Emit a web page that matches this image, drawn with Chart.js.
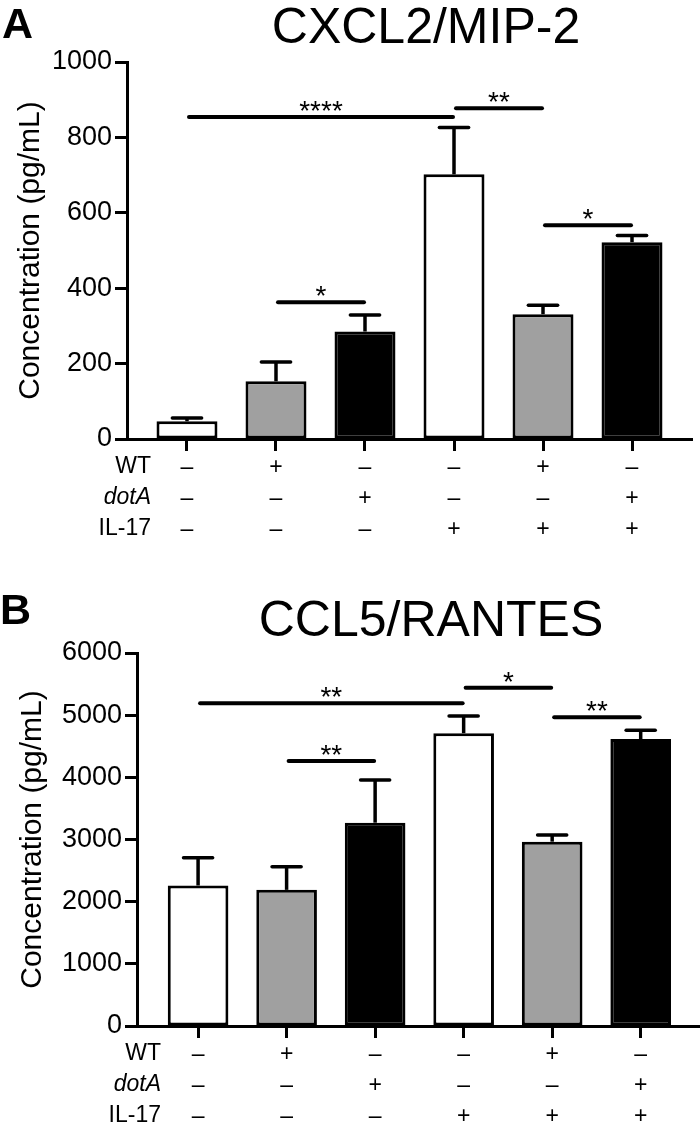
<!DOCTYPE html>
<html>
<head>
<meta charset="utf-8">
<script src="https://cdn.jsdelivr.net/npm/chart.js@4.4.0/dist/chart.umd.min.js"></script>
<style>
  body { margin: 0; background: #fff; }
  .panel { position: absolute; left: 0; width: 700px; }
  #panelA { top: 0; height: 560px; }
  #panelB { top: 560px; height: 565px; }
</style>
</head>
<body>
<div class="panel" id="panelA"><canvas id="chartA"></canvas></div>
<div class="panel" id="panelB"><canvas id="chartB"></canvas></div>
<script>
// treatment table under each chart
const rowNames = ["WT", "dotA", "IL-17"];
const wtRow = ["–", "+", "–", "–", "+", "–"];
const dotARow = ["–", "–", "+", "–", "–", "+"];
const il17Row = ["–", "–", "–", "+", "+", "+"];

// CXCL2/MIP-2 (pg/mL), mean and upper error
const mipMeans = [47, 153, 285, 702, 331, 522];
const mipErr = [9, 51, 44, 124, 24, 18];
const mipTicks = [0, 200, 400, 600, 800, 1000];
// [from bar, to bar, height, label]
const mipSig = [[0, 3, 854, "****"], [3, 4, 877, "**"], [1, 2, 363, "*"], [4, 5, 567, "*"]];

// CCL5/RANTES (pg/mL)
const rantesMeans = [2260, 2190, 3270, 4710, 2965, 4615];
const rantesErr = [447, 373, 687, 276, 107, 141];
const rantesTicks = [0, 1000, 2000, 3000, 4000, 5000, 6000];
const rantesSig = [[0, 3, 5190, "**"], [3, 4, 5441, "*"], [1, 2, 4262, "**"], [4, 5, 4965, "**"]];

const FONT = "'Liberation Sans', Arial, Helvetica, sans-serif";
const fills = ["#ffffff", "#a0a0a0", "#000000", "#ffffff", "#a0a0a0", "#000000"];

function makeChart(id, cfg) {
  const extras = {
    id: "extras",
    afterDatasetsDraw(chart) {
      const ctx = chart.ctx;
      const x = chart.scales.x, y = chart.scales.y;
      const meta = chart.getDatasetMeta(0);
      ctx.save();
      ctx.strokeStyle = "#000";
      // error bars (upper only)
      meta.data.forEach((bar, i) => {
        const top = y.getPixelForValue(cfg.means[i] + cfg.err[i]);
        const hw = bar.width * 0.24;
        ctx.lineWidth = 3.5;
        ctx.lineCap = "butt";
        ctx.beginPath();
        ctx.moveTo(bar.x, bar.y);
        ctx.lineTo(bar.x, top);
        ctx.stroke();
        ctx.lineCap = "round";
        ctx.beginPath();
        ctx.moveTo(bar.x - hw, top);
        ctx.lineTo(bar.x + hw, top);
        ctx.stroke();
      });
      // significance lines
      ctx.font = "28px " + FONT;
      ctx.fillStyle = "#000";
      ctx.textAlign = "center";
      ctx.textBaseline = "alphabetic";
      cfg.sig.forEach(s => {
        const x1 = x.getPixelForValue(s[0]) + 2;
        const x2 = x.getPixelForValue(s[1]) - 1;
        const yy = y.getPixelForValue(s[2]);
        ctx.lineWidth = 4;
        ctx.lineCap = "round";
        ctx.beginPath();
        ctx.moveTo(x1, yy);
        ctx.lineTo(x2, yy);
        ctx.stroke();
        const m = ctx.measureText(s[3]);
        ctx.fillText(s[3], (x1 + x2) / 2, yy - 6 - m.actualBoundingBoxDescent);
      });
      ctx.restore();
    },
    afterDraw(chart) {
      const ctx = chart.ctx;
      const area = chart.chartArea;
      ctx.save();
      ctx.fillStyle = "#000";
      // panel letter
      ctx.font = "bold 43px " + FONT;
      ctx.textAlign = "left";
      ctx.textBaseline = "alphabetic";
      ctx.fillText(cfg.letter, cfg.letterX, cfg.letterY);
      // title
      ctx.font = "50px " + FONT;
      ctx.textAlign = "center";
      ctx.fillText(cfg.title, cfg.titleX, cfg.titleY);
      // y axis title
      ctx.save();
      ctx.translate(cfg.yTitleX, (area.top + area.bottom) / 2);
      ctx.rotate(-Math.PI / 2);
      ctx.font = "30px " + FONT;
      ctx.textBaseline = "middle";
      ctx.fillText("Concentration (pg/mL)", 0, 0);
      ctx.restore();
      // row names of the table
      ctx.textAlign = "right";
      ctx.textBaseline = "middle";
      rowNames.forEach((r, k) => {
        ctx.font = (r === "dotA" ? "italic " : "") + "23px " + FONT;
        ctx.fillText(r, area.left + 24, area.bottom + 28 + k * 31);
      });
      ctx.restore();
    }
  };

  return new Chart(document.getElementById(id), {
    type: "bar",
    data: {
      datasets: [{
        data: cfg.means.map((v, i) => ({ x: i, y: v })),
        backgroundColor: fills,
        borderColor: "#000",
        borderWidth: 3,
        borderSkipped: false,
        categoryPercentage: 1,
        barPercentage: 0.685
      }]
    },
    options: {
      responsive: true,
      maintainAspectRatio: false,
      animation: false,
      layout: { padding: { top: cfg.padTop, right: cfg.padRight, left: 0, bottom: 0 } },
      plugins: { legend: { display: false }, tooltip: { enabled: false } },
      scales: {
        x: {
          type: "linear",
          offset: false,
          bounds: "data",
          min: cfg.xMin,
          max: cfg.xMax,
          afterBuildTicks: s => { s.ticks = wtRow.map((w, i) => ({ value: i })); },
          afterFit: s => { s.height = cfg.xHeight; },
          border: { display: true, color: "#000", width: 3 },
          grid: { offset: false, drawOnChartArea: false, drawTicks: true, tickLength: 12, tickWidth: 3, tickColor: "#000" },
          ticks: {
            autoSkip: false,
            maxRotation: 0,
            padding: 1,
            color: "#000",
            font: { family: FONT, size: 23, lineHeight: 31 / 23 },
            callback: v => [wtRow[v], dotARow[v], il17Row[v]]
          }
        },
        y: {
          min: cfg.ticks[0],
          max: cfg.ticks[cfg.ticks.length - 1],
          afterBuildTicks: s => { s.ticks = cfg.ticks.map(v => ({ value: v })); },
          afterFit: s => { s.width = cfg.yWidth; },
          border: { display: true, color: "#000", width: 3 },
          grid: { drawOnChartArea: false, drawTicks: true, tickLength: 12, tickWidth: 3, tickColor: "#000" },
          ticks: { padding: 3, color: "#000", font: { family: FONT, size: 27 }, callback: v => String(v) }
        }
      }
    },
    plugins: [extras]
  });
}

makeChart("chartA", {
  means: mipMeans, err: mipErr, ticks: mipTicks, sig: mipSig,
  title: "CXCL2/MIP-2", letter: "A",
  letterX: 2, letterY: 38, titleX: 426, titleY: 43, yTitleX: 31,
  padTop: 62, padRight: 8, xHeight: 121, yWidth: 127,
  xMin: -0.674, xMax: 5.674
});

makeChart("chartB", {
  means: rantesMeans, err: rantesErr, ticks: rantesTicks, sig: rantesSig,
  title: "CCL5/RANTES", letter: "B",
  letterX: 0, letterY: 64, titleX: 431, titleY: 76, yTitleX: 33,
  padTop: 93, padRight: 0, xHeight: 99, yWidth: 137,
  xMin: -0.69, xMax: 5.67
});
</script>
</body>
</html>
